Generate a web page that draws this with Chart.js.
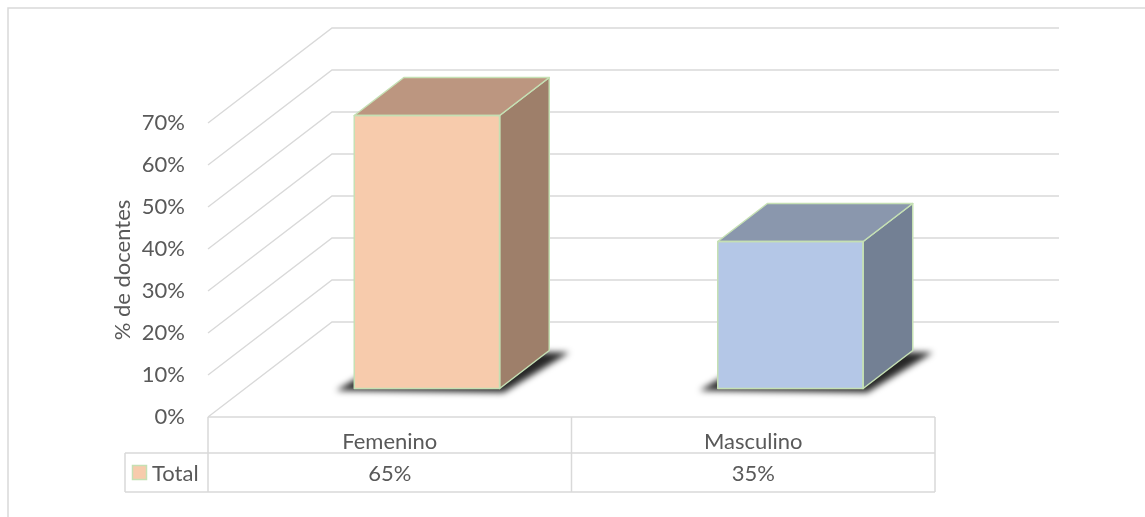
<!DOCTYPE html>
<html>
<head>
<meta charset="utf-8">
<script src="https://cdn.jsdelivr.net/npm/chart.js@4"></script>
<style>
  html, body { margin: 0; padding: 0; background: #ffffff; }
  #wrap { width: 1145px; height: 517px; position: relative; }
</style>
</head>
<body>
<div id="wrap"><canvas id="c" width="1145" height="517"></canvas></div>
<script>
// ---- data ----
const categories = ['Femenino', 'Masculino'];
const seriesName = 'Total';
const values = [0.65, 0.35];
const yTicks = [0, 0.1, 0.2, 0.3, 0.4, 0.5, 0.6, 0.7];
const axisTitle = '% de docentes';

// ---- styles ----
const frontColors = ['#F7CBAC', '#B4C7E7'];
const topColors = ['#BC9680', '#8A97AD'];
const sideColors = ['#9E7F6A', '#738094'];
const edgeColor = '#C5E0B4';
const lineColor = '#D9D9D9';
const textColor = '#595959';
const FONT = 'Lato';
const FS = 22;

// depth of the 3D box (pixels)
const DX = 124, DY = -95;
const FRONT = 0.3, BACK = 0.7;

const pct = v => Math.round(v * 100) + '%';

const excel3d = {
  id: 'excel3d',
  beforeDatasetsDraw(chart) {
    const {ctx, chartArea: ca, scales: {x, y}} = chart;
    ctx.save();
    // outer frame
    ctx.strokeStyle = lineColor;
    ctx.lineWidth = 1.5;
    ctx.beginPath();
    ctx.moveTo(8, 517); ctx.lineTo(8, 8); ctx.lineTo(1145, 8);
    ctx.stroke();
    // walls / gridlines
    ctx.lineWidth = 1.4;
    yTicks.forEach(v => {
      const py = y.getPixelForValue(v);
      ctx.beginPath();
      ctx.moveTo(ca.left, py);
      ctx.lineTo(ca.left + DX, py + DY);
      ctx.lineTo(ca.right + DX, py + DY);
      ctx.stroke();
    });
    // shadows under boxes
    const meta = chart.getDatasetMeta(0);
    const fx = DX * FRONT, fy = DY * FRONT;
    const d = DX * (BACK - FRONT), dd = DY * (BACK - FRONT);
    meta.data.forEach(bar => {
      const x0 = bar.x - bar.width / 2 + fx, x1 = bar.x + bar.width / 2 + fx;
      const b = bar.base + fy;
      ctx.save();
      ctx.filter = 'blur(3px)';
      ctx.fillStyle = 'rgba(0,0,0,0.85)';
      ctx.beginPath();
      ctx.moveTo(x0 - 18, b + 2);
      ctx.lineTo(x1 + 4, b + 4);
      ctx.lineTo(x1 + d + 20, b + dd + 2);
      ctx.lineTo(x0 + d, b + dd);
      ctx.closePath();
      ctx.fill();
      ctx.restore();
    });
    ctx.restore();
    // move front faces to the middle depth
    ctx.save();
    ctx.translate(fx, fy);
  },
  afterDatasetsDraw(chart) {
    const {ctx} = chart;
    ctx.restore();
    const meta = chart.getDatasetMeta(0);
    const fx = DX * FRONT, fy = DY * FRONT;
    const d = DX * (BACK - FRONT), dd = DY * (BACK - FRONT);
    ctx.save();
    ctx.lineWidth = 1.5;
    ctx.strokeStyle = edgeColor;
    ctx.lineJoin = 'round';
    meta.data.forEach((bar, i) => {
      const x0 = bar.x - bar.width / 2 + fx, x1 = bar.x + bar.width / 2 + fx;
      const t = bar.y + fy, b = bar.base + fy;
      // side face
      ctx.fillStyle = sideColors[i];
      ctx.beginPath();
      ctx.moveTo(x1, t); ctx.lineTo(x1 + d, t + dd); ctx.lineTo(x1 + d, b + dd); ctx.lineTo(x1, b);
      ctx.closePath(); ctx.fill(); ctx.stroke();
      // top face
      ctx.fillStyle = topColors[i];
      ctx.beginPath();
      ctx.moveTo(x0, t); ctx.lineTo(x1, t); ctx.lineTo(x1 + d, t + dd); ctx.lineTo(x0 + d, t + dd);
      ctx.closePath(); ctx.fill(); ctx.stroke();
      // front outline
      ctx.strokeRect(x0, t, x1 - x0, b - t);
    });
    ctx.restore();
  },
  afterDraw(chart) {
    const {ctx, chartArea: ca, scales: {x}} = chart;
    const r0 = ca.bottom, r1 = 453, r2 = 492, lx = 125;
    ctx.save();
    ctx.strokeStyle = lineColor;
    ctx.lineWidth = 1.5;
    ctx.beginPath();
    ctx.moveTo(ca.left, r0); ctx.lineTo(ca.right, r0);
    ctx.moveTo(lx, r1); ctx.lineTo(ca.right, r1);
    ctx.moveTo(lx, r2); ctx.lineTo(ca.right, r2);
    ctx.moveTo(lx, r1); ctx.lineTo(lx, r2);
    ctx.moveTo(ca.left, r0); ctx.lineTo(ca.left, r2);
    ctx.moveTo(ca.right, r0); ctx.lineTo(ca.right, r2);
    const mid = (x.getPixelForValue(0) + x.getPixelForValue(1)) / 2;
    ctx.moveTo(mid, r0); ctx.lineTo(mid, r2);
    ctx.stroke();
    // legend key
    ctx.fillStyle = frontColors[0];
    ctx.fillRect(132.5, 465.5, 14, 14);
    ctx.strokeStyle = edgeColor;
    ctx.strokeRect(132.5, 465.5, 14, 14);
    ctx.fillStyle = textColor;
    ctx.font = FS + 'px ' + FONT;
    ctx.textBaseline = 'middle';
    ctx.textAlign = 'left';
    ctx.fillText(seriesName, 152, (r1 + r2) / 2 + 1);
    ctx.textAlign = 'center';
    values.forEach((v, i) => {
      ctx.fillText(pct(v), x.getPixelForValue(i), (r1 + r2) / 2 + 1);
    });
    ctx.restore();
  }
};

new Chart(document.getElementById('c'), {
  type: 'bar',
  data: {
    labels: categories,
    datasets: [{
      label: seriesName,
      data: values,
      backgroundColor: frontColors,
      borderColor: edgeColor,
      borderWidth: 0,
      barPercentage: 0.4,
      categoryPercentage: 1,
      clip: false
    }]
  },
  options: {
    responsive: false,
    animation: false,
    events: [],
    layout: { padding: { top: 123, right: 210, bottom: 0, left: 0 } },
    plugins: { legend: { display: false }, tooltip: { enabled: false } },
    scales: {
      x: {
        grid: { display: false, drawTicks: false },
        border: { display: false },
        ticks: { color: textColor, font: { family: FONT, size: FS }, padding: 12, maxRotation: 0 },
        afterFit(s) { s.height = 100; }
      },
      y: {
        min: 0, max: 0.7,
        grid: { display: false, drawTicks: false },
        border: { display: false },
        afterBuildTicks(s) { s.ticks = yTicks.map(v => ({ value: v })); },
        ticks: { color: textColor, font: { family: FONT, size: FS }, padding: 23, callback: v => pct(v) },
        title: { display: true, text: axisTitle, color: textColor, font: { family: FONT, size: FS }, padding: { top: 110, bottom: 0 } },
        afterFit(s) { s.width = 208; }
      }
    }
  },
  plugins: [excel3d]
});
</script>
</body>
</html>
